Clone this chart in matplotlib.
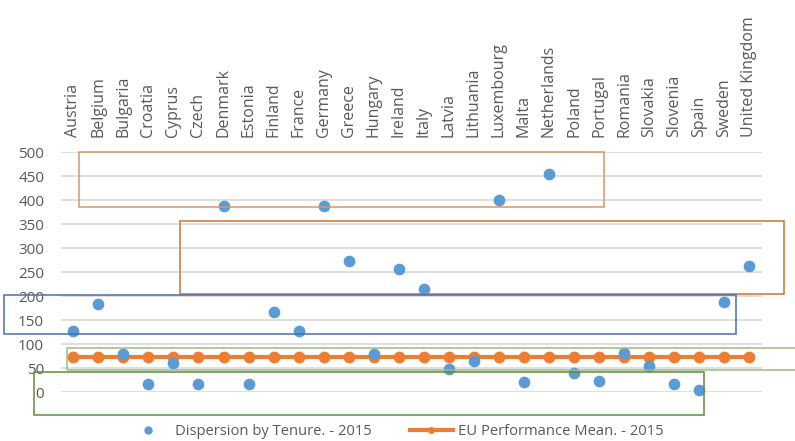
import matplotlib
matplotlib.use("Agg")
import matplotlib.pyplot as plt
from matplotlib.patches import Rectangle
from matplotlib.lines import Line2D

# Data
countries = ['Austria', 'Belgium', 'Bulgaria', 'Croatia', 'Cyprus', 'Czech', 'Denmark',
             'Estonia', 'Finland', 'France', 'Germany', 'Greece', 'Hungary', 'Ireland',
             'Italy', 'Latvia', 'Lithuania', 'Luxembourg', 'Malta', 'Netherlands', 'Poland',
             'Portugal', 'Romania', 'Slovakia', 'Slovenia', 'Spain', 'Sweden', 'United Kingdom']
dispersion = [127, 184, 80, 17, 61, 17, 387, 17, 167, 127, 387, 274, 80, 257,
              214, 48, 65, 400, 21, 454, 40, 24, 81, 54, 17, 4, 187, 263]
eu_mean = [74] * len(countries)
y_ticks = [0, 50, 100, 150, 200, 250, 300, 350, 400, 450, 500]

W, H = 795, 441
plt.rcParams['font.family'] = ['Open Sans', 'DejaVu Sans']
fig = plt.figure(figsize=(W / 100, H / 100), dpi=100)

# axes placed in pixel terms
x0, x1 = 60.8, 761.8
y_top, y_bot = 152.0, 392.3
ax = fig.add_axes([x0 / W, 1 - y_bot / H, (x1 - x0) / W, (y_bot - y_top) / H])

xs = list(range(len(countries)))
ax.plot(xs, eu_mean, color='#ed7d31', lw=3.0, marker='o', ms=7.5, zorder=3,
        clip_on=False, label='EU Performance Mean. - 2015')
ax.scatter(xs, dispersion, s=55, color='#5b9bd5', zorder=4, clip_on=False,
           label='Dispersion by Tenure. - 2015')

ax.set_xlim(-0.5, len(countries) - 0.5)
ax.set_ylim(0, 500)
ax.set_yticks(y_ticks)
ax.set_xticks(xs)
ax.set_xticklabels(countries, rotation=90)
ax.tick_params(axis='x', top=False, bottom=False, labeltop=True, labelbottom=False,
               length=0, pad=10.5, labelsize=11.5, labelcolor='#595959')
ax.tick_params(axis='y', length=0, pad=12, labelsize=11, labelcolor='#595959')
for lab in ax.get_xticklabels():
    lab.set_verticalalignment('bottom')

ax.grid(axis='y', color='#d9d9d9', lw=1.2)
ax.set_axisbelow(True)
for s in ax.spines.values():
    s.set_visible(False)

# annotation boxes drawn over the chart (pixel coords: left, top, right, bottom, colour)
boxes = [
    (79.3, 152.0, 604.0, 206.7, '#d9956b'),
    (179.7, 221.0, 784.3, 294.3, '#d0702a'),
    (4.3, 294.7, 735.7, 334.3, '#4a6db0'),
    (66.7, 348.0, 800.0, 369.7, '#9dbb82'),
    (34.3, 372.3, 704.0, 415.3, '#5e8c3c'),
]
for l, t, r, b, c in boxes:
    fig.patches.append(Rectangle((l / W, 1 - b / H), (r - l) / W, (b - t) / H,
                                 transform=fig.transFigure, fill=False,
                                 edgecolor=c, lw=1.1, zorder=5))

handles = [
    Line2D([], [], color='#5b9bd5', marker='o', ls='none', ms=5),
    Line2D([], [], color='#ed7d31', marker='o', lw=3, ms=4),
]
fig.legend(handles, ['Dispersion by Tenure. - 2015', 'EU Performance Mean. - 2015'],
           loc='center', bbox_to_anchor=(0.497, 0.022), ncol=2, frameon=False,
           fontsize=10.6, labelcolor='#595959', handlelength=2.9, columnspacing=2.6,
           handletextpad=0.35)

fig.savefig('out.png', dpi=100)
